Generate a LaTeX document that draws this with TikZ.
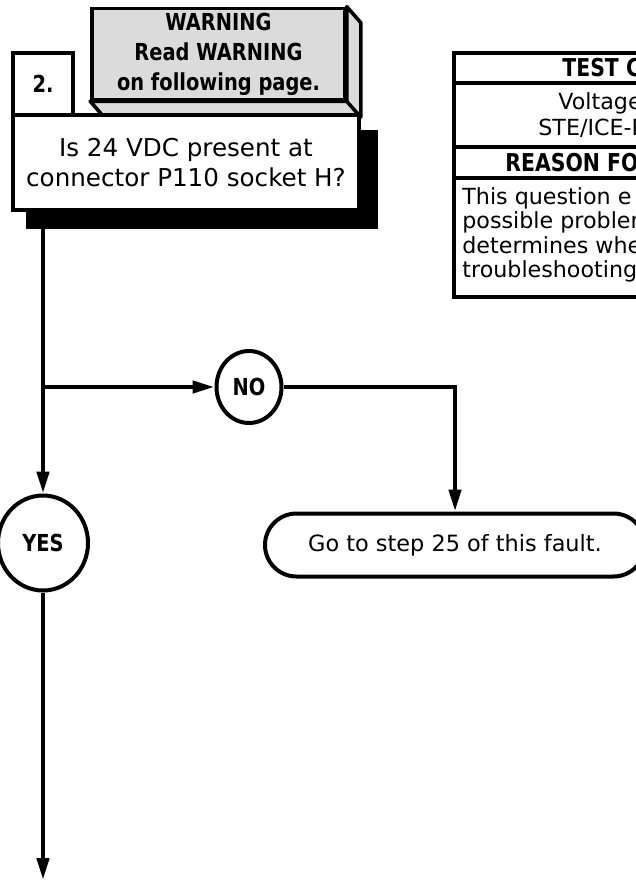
\documentclass[tikz,border=0pt]{standalone}
\usepackage{fontspec}
\setmainfont{DejaVu Sans}
\newfontfamily\narrowbf{DejaVu Sans}[FakeStretch=0.83]
\usetikzlibrary{arrows.meta,shapes.geometric,shapes.misc,calc}
\definecolor{warngray}{gray}{0.86}
\tikzset{
  box/.style={draw,line width=1.8pt,fill=white,inner sep=0pt},
  oval/.style={draw,ellipse,line width=2pt,fill=white,inner sep=0pt,
    font=\narrowbf\bfseries\fontsize{11.7}{14}\selectfont},
  flow/.style={line width=2.2pt,-{Triangle[length=11pt,width=6pt]}},
  tblhead/.style={anchor=west,inner sep=0pt,font=\narrowbf\bfseries\fontsize{12.3}{14}\selectfont},
  tbltext/.style={anchor=west,inner sep=0pt,align=left,font=\fontsize{11.1}{12.25}\selectfont}
}
\begin{document}
\begin{tikzpicture}[x=0.5pt,y=-0.5pt]
\useasboundingbox (0,0) rectangle (636,880);
\clip (0,0) rectangle (636,880);

\node[box,fill=warngray,minimum width=126.5pt,minimum height=45.5pt,align=center,
  font=\narrowbf\bfseries\fontsize{11.7}{15}\selectfont] at (218.5,54) (warn) {WARNING\\Read WARNING\\on following page.};
\filldraw[fill=warngray,line width=1.8pt,line join=round] (warn.north east) -- ++(14,16)
  -- ($(warn.south east)+(14,16)$) -- ($(warn.south west)+(14,16)$) -- (warn.south west)
  -- (warn.south east) -- cycle;
\draw[line width=1.8pt] (warn.south east) -- ++(14,16);

\node[box,minimum width=30pt,minimum height=31pt,font=\narrowbf\bfseries\fontsize{11.7}{14}\selectfont] at (43,84) (num) {2.};
% shadow of the question box
\fill (26,130) rectangle (378,229);
\node[box,minimum width=173pt,minimum height=47.5pt,align=center,
  font=\fontsize{12.3}{15}\selectfont] at (186,162.5) (quest) {Is 24 VDC present at\\connector P110 socket H?};

\node[oval,minimum width=45pt,minimum height=47.5pt] at (43,543) (yes) {YES};
\node[oval,minimum width=32.5pt,minimum height=36pt] at (249,387) (no) {NO};
\node[box,rounded rectangle,line width=2pt,minimum width=190pt,minimum height=31.5pt,
  font=\fontsize{11.2}{13}\selectfont] at (455,545) (goto) {Go to step 25 of this fault.};

\coordinate (split) at (43,387);
\coordinate (exit) at (43,880);
\draw[line width=2.2pt] (quest.south -| yes) -- (split);
\draw[flow] (split) -- (yes);
\draw[flow] (split) -- (no);
\draw[flow] (no) -| (goto);
\draw[flow] (yes) -- (exit);

\draw[line width=1.8pt] (454,53) rectangle (800,297);
\draw[line width=1.8pt] (454,83) -- (800,83) (454,147) -- (800,147) (454,178) -- (800,178);
\node[tblhead] at (562,68) (thead) {TEST C};
\node[tbltext] at (558,103) (tvolt) {Voltage};
\node[tbltext] at (538,128) (tste) {STE/ICE-R};
\node[tblhead] at (505,163) (rhead) {REASON FO};
\node[tbltext] at (462,235) (rtext) {This question e\\possible problem\\determines whe\\troubleshooting};
\end{tikzpicture}
\end{document}
